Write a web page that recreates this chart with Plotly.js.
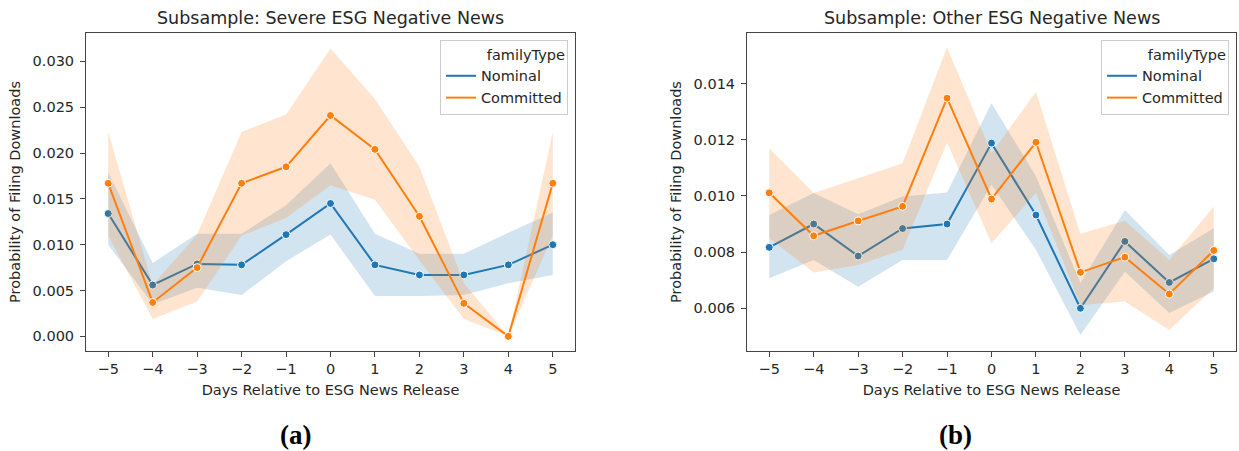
<!DOCTYPE html>
<html>
<head>
<meta charset="utf-8">
<script src="https://cdn.plot.ly/plotly-3.0.1.min.js"></script>
<style>html,body{margin:0;padding:0;background:#fff;}#chart{width:1239px;height:451px;}</style>
</head>
<body>
<div id="chart"></div>
<script>
// ---- data ----
const days = [-5, -4, -3, -2, -1, 0, 1, 2, 3, 4, 5];
const seriesNames = ["Nominal", "Committed"];
const panelTitles = ["Subsample: Severe ESG Negative News", "Subsample: Other ESG Negative News"];
const captions = ["(a)", "(b)"];

// Panel (a): Severe ESG negative news
const severeNominal      = [0.0134, 0.0056, 0.0079, 0.0078, 0.0111, 0.0145, 0.0078, 0.0067, 0.0067, 0.0078, 0.0100];
const severeNominalHi    = [0.0179, 0.0080, 0.0112, 0.0112, 0.0143, 0.0189, 0.0112, 0.0090, 0.0090, 0.0113, 0.0135];
const severeNominalLo    = [0.0100, 0.0035, 0.0053, 0.0045, 0.0082, 0.0111, 0.0044, 0.0044, 0.0045, 0.0058, 0.0067];
const severeCommitted    = [0.0167, 0.0037, 0.0075, 0.0167, 0.0185, 0.0241, 0.0204, 0.0131, 0.0036, 0.0000, 0.0167];
const severeCommittedHi  = [0.0223, 0.0056, 0.0111, 0.0223, 0.0242, 0.0314, 0.0259, 0.0185, 0.0058, 0.0000, 0.0223];
const severeCommittedLo  = [0.0110, 0.0019, 0.0038, 0.0110, 0.0129, 0.0165, 0.0149, 0.0083, 0.0019, 0.0000, 0.0110];

// Panel (b): Other ESG negative news
const otherNominal       = [0.00817, 0.00900, 0.00786, 0.00884, 0.00900, 0.01188, 0.00932, 0.00600, 0.00838, 0.00692, 0.00776];
const otherNominalHi     = [0.00932, 0.01010, 0.00935, 0.00998, 0.01012, 0.01330, 0.01070, 0.00690, 0.00950, 0.00790, 0.00885];
const otherNominalLo     = [0.00707, 0.00772, 0.00677, 0.00772, 0.00772, 0.01040, 0.00808, 0.00505, 0.00730, 0.00583, 0.00660];
const otherCommitted     = [0.01011, 0.00858, 0.00911, 0.00963, 0.01348, 0.00989, 0.01191, 0.00728, 0.00782, 0.00651, 0.00806];
const otherCommittedHi   = [0.01170, 0.01010, 0.01063, 0.01116, 0.01529, 0.01152, 0.01371, 0.00865, 0.00912, 0.00772, 0.00962];
const otherCommittedLo   = [0.00850, 0.00727, 0.00754, 0.00808, 0.01190, 0.00832, 0.01010, 0.00612, 0.00624, 0.00523, 0.00672];

// ---- styling ----
const colors = ["#1f77b4", "#ff7f0e"];
const bandColors = ["rgba(31,119,180,0.2)", "rgba(255,127,14,0.2)"];
const FONT = "DejaVu Sans, Verdana, sans-serif";
const TXT = "#262626";
const FS = 14.5;

function panelTraces(xa, ya, legendId, series) {
  const out = [];
  series.forEach((s, i) => {
    const rev = days.slice().reverse();
    out.push({
      x: days.concat(rev), y: s.hi.concat(s.lo.slice().reverse()),
      xaxis: xa, yaxis: ya, type: "scatter", mode: "lines", fill: "toself",
      fillcolor: bandColors[i], line: {width: 0, color: bandColors[i]},
      hoverinfo: "skip", showlegend: false, legend: legendId
    });
    out.push({
      x: days, y: s.v, xaxis: xa, yaxis: ya, type: "scatter", mode: "lines",
      name: seriesNames[i], line: {color: colors[i], width: 2},
      showlegend: true, legend: legendId
    });
    out.push({
      x: days, y: s.v, xaxis: xa, yaxis: ya, type: "scatter", mode: "markers",
      name: seriesNames[i], marker: {color: colors[i], size: 8, line: {color: "#fff", width: 1}},
      showlegend: false, legend: legendId
    });
  });
  return out;
}

const data = []
  .concat(panelTraces("x", "y", "legend", [
    {v: severeNominal, hi: severeNominalHi, lo: severeNominalLo},
    {v: severeCommitted, hi: severeCommittedHi, lo: severeCommittedLo}
  ]))
  .concat(panelTraces("x2", "y2", "legend2", [
    {v: otherNominal, hi: otherNominalHi, lo: otherNominalLo},
    {v: otherCommitted, hi: otherCommittedHi, lo: otherCommittedLo}
  ]));

const W = 1239, H = 451;
const dom1 = [86 / W, 575 / W], dom2 = [747 / W, 1236 / W];
const ydom = [1 - 351 / H, 1 - 33 / H];

function xAxis(domain, anchor) {
  return {
    domain: domain, anchor: anchor, range: [-5.5, 5.5],
    tickmode: "array", tickvals: days, ticktext: days.map(d => d < 0 ? "\u2212" + Math.abs(d) : String(d)),
    ticks: "outside", ticklen: 5, tickwidth: 1, tickcolor: "#444",
    showline: true, linecolor: "#444", linewidth: 1, mirror: true,
    showgrid: false, zeroline: false,
    tickfont: {family: FONT, size: FS, color: TXT},
    title: {text: "Days Relative to ESG News Release", font: {family: FONT, size: FS, color: TXT}, standoff: 8}
  };
}
function yAxis(domain, anchor, range, dtick, tick0) {
  return {
    domain: domain, anchor: anchor, range: range, tick0: tick0, dtick: dtick, tickformat: ".3f",
    ticks: "outside", ticklen: 5, tickwidth: 1, tickcolor: "#444", ticklabelstandoff: 3,
    showline: true, linecolor: "#444", linewidth: 1, mirror: true,
    showgrid: false, zeroline: false,
    tickfont: {family: FONT, size: FS, color: TXT},
    title: {text: "Probability of Filing Downloads", font: {family: FONT, size: FS, color: TXT}, standoff: 8}
  };
}
function legendDef(xRight) {
  return {
    x: xRight, xanchor: "right", y: 1 - 40 / H, yanchor: "top",
    bgcolor: "rgba(255,255,255,0.8)", bordercolor: "#cccccc", borderwidth: 1,
    font: {family: FONT, size: FS, color: TXT},
    title: {text: "familyType", side: "top right", font: {family: FONT, size: FS, color: TXT}},
    itemwidth: 30, tracegroupgap: 0
  };
}

const layout = {
  width: W, height: H,
  margin: {l: 0, r: 0, t: 0, b: 0},
  paper_bgcolor: "#fff", plot_bgcolor: "#fff",
  font: {family: FONT, color: TXT},
  xaxis: xAxis(dom1, "y"),
  yaxis: yAxis(ydom, "x", [-0.0016, 0.0331], 0.005, 0),
  xaxis2: xAxis(dom2, "y2"),
  yaxis2: yAxis(ydom, "x2", [0.00448, 0.0158], 0.002, 0.006),
  legend: legendDef(568 / W),
  legend2: legendDef(1229 / W),
  annotations: [
    {text: panelTitles[0], xref: "paper", yref: "paper", x: (dom1[0] + dom1[1]) / 2, y: 1 - 18 / H,
     xanchor: "center", yanchor: "middle", showarrow: false, font: {family: FONT, size: 17.5, color: TXT}},
    {text: panelTitles[1], xref: "paper", yref: "paper", x: (dom2[0] + dom2[1]) / 2, y: 1 - 18 / H,
     xanchor: "center", yanchor: "middle", showarrow: false, font: {family: FONT, size: 17.5, color: TXT}},
    {text: "<b>" + captions[0] + "</b>", xref: "paper", yref: "paper", x: 295 / W, y: 1 - 435 / H,
     xanchor: "center", yanchor: "middle", showarrow: false, font: {family: "Liberation Serif, Times New Roman, serif", size: 27, color: "#000"}},
    {text: "<b>" + captions[1] + "</b>", xref: "paper", yref: "paper", x: 956 / W, y: 1 - 435 / H,
     xanchor: "center", yanchor: "middle", showarrow: false, font: {family: "Liberation Serif, Times New Roman, serif", size: 27, color: "#000"}}
  ]
};

Plotly.newPlot("chart", data, layout, {displayModeBar: false, staticPlot: true});
</script>
</body>
</html>
